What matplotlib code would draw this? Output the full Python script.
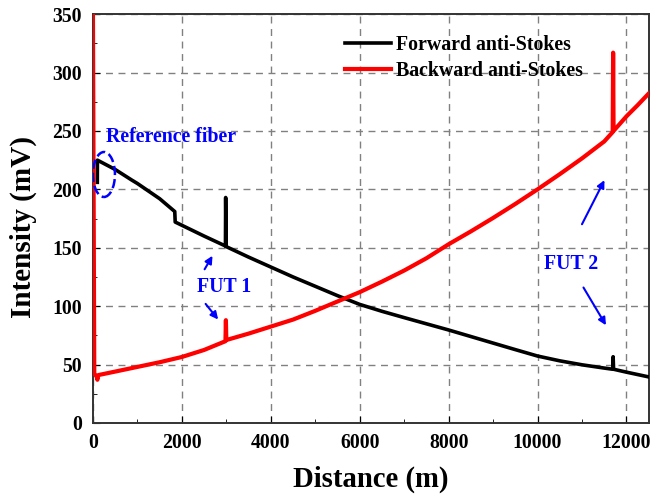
import matplotlib.pyplot as plt
from matplotlib.patches import Ellipse
from matplotlib.ticker import MultipleLocator

# Forward anti-Stokes (black) - distance (m), intensity (mV)
fwd_x = [98, 100, 500, 870, 1000, 1500, 1840, 1850, 2500, 2980, 2985, 2995,
         3500, 4000, 4500, 5000, 5500, 6000, 6500, 7000, 7500, 8000,
         8500, 9000, 9500, 10000, 10500, 11000, 11500, 11690, 11700, 11710,
         12000, 12480]
fwd_y = [206, 225, 217, 208, 205, 192, 181, 172, 160, 151.5, 193, 151,
         142, 133.5, 125, 117, 109, 101.5, 95.6, 90.2, 84.9, 79.6,
         74, 68.4, 62.8, 57.3, 53.2, 49.8, 47, 46, 56.7, 46,
         43.5, 39.6]

# Backward anti-Stokes (red)
bwd_x = [0, 30, 80, 100, 120, 500, 1000, 1500, 2000, 2500, 2980, 2990, 3000,
         3500, 4000, 4500, 5000, 5500, 6000, 6500, 7000, 7500, 8000, 8500,
         9000, 9500, 10000, 10500, 11000, 11500, 11690, 11700, 11710, 12000,
         12250, 12500]
bwd_y = [350, 42, 40, 37, 41, 44, 48, 52, 56.5, 62.5, 70, 88, 71,
         76.5, 82.5, 88.5, 96, 104, 112, 121, 130.5, 141, 153, 164,
         175.5, 187.5, 200, 213, 226.5, 241, 249, 317, 250, 262.5,
         272, 282]

serif = 'Liberation Serif'
plt.rcParams['font.family'] = serif
plt.rcParams['font.weight'] = 'bold'

fig = plt.figure(figsize=(6.5, 4.95), dpi=100)
ax = fig.add_axes([0.143, 0.1455, 0.855, 0.826])

ax.plot(fwd_x, fwd_y, color='black', linewidth=2.6, label='Forward anti-Stokes', zorder=3)
ax.plot(bwd_x, bwd_y, color='red', linewidth=3.0, label='Backward anti-Stokes', zorder=3)

ax.set_xlim(0, 12500)
ax.set_ylim(0, 350)
ax.xaxis.set_major_locator(MultipleLocator(2000))
ax.xaxis.set_minor_locator(MultipleLocator(1000))
ax.yaxis.set_major_locator(MultipleLocator(50))
ax.yaxis.set_minor_locator(MultipleLocator(25))
ax.tick_params(which='both', direction='in', labelsize=14.2)
ax.tick_params(which='major', length=5)
ax.tick_params(which='minor', length=3)
ax.tick_params(axis='x', pad=7)
ax.tick_params(axis='y', pad=8)
for s in ax.spines.values():
    s.set_linewidth(1.4)
    s.set_color('#333333')

ax.grid(True, which='major', color='gray', linestyle=(0, (5, 4)), linewidth=1)

ax.set_xlabel('Distance (m)', fontsize=20.7, fontweight='bold')
ax.set_ylabel('Intensity (mV)', fontsize=21, fontweight='bold')
ax.xaxis.set_label_coords(0.5, -0.105)
ax.yaxis.set_label_coords(-0.1, 0.48)

ax.legend(loc='upper left', bbox_to_anchor=(0.439, 0.968), frameon=False,
          fontsize=14.3, handlelength=2.3, handletextpad=0.25, labelspacing=0.3,
          borderaxespad=0)

# annotations
ax.add_patch(Ellipse((247, 212.7), 495, 38.5, fill=False, edgecolor='blue',
                     linestyle='--', linewidth=1.8, zorder=4))
ax.text(292, 244.7, 'Reference fiber', color='blue', fontsize=14.3,
        fontweight='bold', va='center')

arrow = dict(arrowstyle='-|>', color='blue', lw=1.5, mutation_scale=11)
ax.text(2945, 116.4, 'FUT 1', color='blue', fontsize=14.3, fontweight='bold',
        ha='center', va='center')
ax.annotate('', xy=(2720, 145.2), xytext=(2480, 129.5), arrowprops=arrow)
ax.annotate('', xy=(2855, 86.7), xytext=(2495, 103.8), arrowprops=arrow)

ax.text(10746, 136, 'FUT 2', color='blue', fontsize=14.3, fontweight='bold',
        ha='center', va='center')
ax.annotate('', xy=(11533, 210), xytext=(10971, 168), arrowprops=arrow)
ax.annotate('', xy=(11571, 81.6), xytext=(11001, 118), arrowprops=arrow)

fig.savefig('out.png', dpi=100)
